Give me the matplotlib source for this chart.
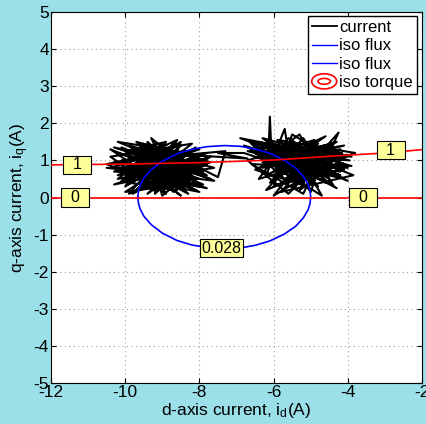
import numpy as np
import matplotlib
matplotlib.use('Agg')
import matplotlib.pyplot as plt
from matplotlib.legend_handler import HandlerBase
from matplotlib.patches import Ellipse, Patch
from matplotlib.lines import Line2D

plt.rcParams['font.family'] = ['Liberation Sans', 'DejaVu Sans']
plt.rcParams['mathtext.default'] = 'regular'
plt.rcParams['axes.unicode_minus'] = False

# measured current trajectory (id, iq) in A
cur_left = [
    (-9.0, 0.9), (-10.2, 1.2), (-8.1, 0.5), (-9.6, 0.3), (-8.5, 1.4), (-10.4, 0.8), (-7.8, 0.9), (-9.2, 0.15),
    (-9.4, 1.5), (-8.0, 0.3), (-10.0, 0.6), (-8.7, 1.2), (-9.8, 0.1), (-8.3, 0.9), (-10.3, 1.35), (-7.7, 0.5),
    (-9.1, 1.1), (-9.9, 0.4), (-8.6, 0.2), (-9.3, 1.6), (-8.2, 0.7), (-10.5, 0.8), (-8.8, 0.6), (-7.6, 0.45),
    (-9.5, 1.2), (-8.9, 0.1), (-10.1, 1.0), (-8.0, 1.3), (-9.7, 0.7), (-8.4, 0.25), (-9.0, 1.45), (-10.2, 0.5),
    (-7.9, 1.0), (-9.3, 0.35), (-8.6, 1.55), (-9.9, 0.95), (-8.3, 0.1), (-9.6, 1.35), (-8.1, 0.8), (-10.3, 0.35),
    (-8.7, 0.9), (-9.2, 1.3), (-7.8, 0.6), (-9.8, 1.2), (-8.9, 0.3), (-10.0, 0.15), (-8.5, 1.1), (-9.4, 0.6),
    (-7.7, 1.1), (-9.1, 0.2), (-10.4, 1.1), (-8.2, 1.45), (-9.5, 0.45), (-8.0, 0.15), (-9.7, 1.0), (-8.8, 1.35),
    (-10.1, 0.75), (-8.4, 0.55), (-9.0, 0.05), (-9.3, 1.0), (-7.9, 0.35), (-9.8, 0.55), (-8.6, 0.85), (-10.2, 1.5),
    (-8.3, 1.2), (-9.4, 0.1), (-8.1, 1.0), (-9.6, 0.85), (-8.7, 0.4), (-9.9, 1.4), (-7.6, 0.8), (-9.2, 0.55),
    (-8.5, 0.05), (-10.0, 1.25), (-8.9, 1.5), (-9.5, 0.25), (-8.2, 0.6), (-10.3, 0.95), (-8.0, 1.15), (-9.1, 0.7),
    (-8.6, 1.3), (-9.7, 0.2), (-8.4, 0.95), (-10.1, 0.45), (-8.8, 1.2), (-9.3, 0.8), (-7.8, 0.25), (-9.9, 0.65),
    (-8.5, 1.5), (-9.0, 0.35), (-10.4, 1.3), (-8.3, 0.45), (-9.5, 1.45), (-8.7, 0.15), (-9.6, 1.05), (-7.9, 0.7),
    (-9.2, 1.4), (-10.0, 0.3), (-8.1, 1.35), (-8.9, 0.75), (-9.8, 1.3), (-8.5, 0.4), (-9.4, 0.95), (-10.2, 0.6),
    (-8.6, 1.0), (-9.1, 0.45), (-7.7, 0.95), (-9.7, 1.5), (-8.3, 0.3), (-9.0, 1.2), (-10.5, 0.9), (-8.8, 0.2),
    (-9.3, 1.15), (-8.2, 0.85), (-9.9, 0.1), (-8.7, 1.45), (-9.4, 0.7), (-8.0, 0.5), (-10.1, 1.35), (-8.6, 0.65),
    (-9.2, 0.1), (-8.4, 1.25), (-9.6, 0.6), (-7.8, 1.2), (-9.0, 0.6), (-10.3, 0.7), (-8.9, 1.05), (-9.5, 0.75),
    (-8.1, 0.2), (-9.8, 0.9), (-8.5, 0.75), (-9.1, 1.35), (-7.5, 0.55),
]
cur_mid = [(-7.3, 1.25), (-8.4, 1.15), (-6.7, 1.05), (-7.5, 1.2), (-6.8, 1.2)]
cur_right = [
    (-5.0, 0.6), (-6.4, 1.5), (-4.4, 1.0), (-6.0, 0.3), (-5.5, 1.7), (-4.0, 0.8), (-6.6, 0.9),
    (-5.2, 0.1), (-4.6, 1.4), (-6.2, 0.6), (-5.7, 1.85), (-5.6, 1.2), (-3.9, 1.1), (-6.5, 1.35), (-4.8, 0.3),
    (-5.9, 1.2), (-4.3, 0.55), (-6.15, 0.95), (-6.1, 2.18), (-6.05, 1.0), (-5.1, 1.5), (-4.5, 0.7), (-6.7, 1.55),
    (-5.4, 0.4), (-4.2, 1.3), (-6.3, 0.8), (-5.6, 1.3), (-3.85, 0.6), (-5.8, 0.15), (-4.9, 1.2), (-6.9, 1.6),
    (-5.0, 0.9), (-4.25, 1.75), (-4.5, 1.2), (-5.3, 0.55), (-6.4, 1.1), (-4.7, 0.05), (-5.5, 1.45), (-4.1, 0.9),
    (-6.0, 0.7), (-5.2, 1.6), (-4.4, 0.35), (-6.6, 1.3), (-5.7, 0.5), (-3.8, 1.2), (-5.9, 1.55), (-4.8, 0.8),
    (-6.2, 0.2), (-5.4, 1.1), (-4.6, 1.65), (-6.5, 0.75), (-5.1, 0.3), (-4.3, 1.1), (-5.8, 1.4), (-4.0, 0.45),
    (-6.1, 1.25), (-5.3, 0.75), (-4.9, 1.55), (-6.7, 1.0), (-5.6, 0.1), (-4.5, 1.25), (-5.95, 0.85), (-4.2, 0.7),
    (-5.2, 1.3), (-6.3, 1.6), (-4.8, 0.55), (-5.5, 0.9), (-3.9, 0.85), (-6.0, 1.45), (-5.0, 0.15), (-4.7, 1.0),
    (-6.4, 0.5), (-5.6, 1.6), (-4.4, 0.8), (-5.8, 0.35), (-5.1, 1.15), (-4.1, 1.4), (-6.2, 1.05), (-5.3, 1.7),
    (-4.6, 0.4), (-6.6, 1.45), (-5.7, 0.65), (-4.3, 1.5), (-5.0, 1.3), (-6.0, 0.05), (-4.9, 0.7), (-5.4, 1.35),
    (-3.95, 1.0), (-6.5, 1.2), (-5.2, 0.45), (-4.5, 1.15), (-5.9, 0.95), (-4.8, 1.45), (-6.1, 0.4), (-5.5, 1.05),
    (-4.2, 0.6), (-6.8, 1.4), (-5.6, 0.8), (-4.7, 1.3), (-5.3, 0.2), (-4.0, 1.15), (-6.3, 0.95), (-5.1, 0.75),
    (-4.4, 1.45), (-5.8, 1.15), (-4.9, 0.4), (-6.4, 1.3), (-5.4, 0.6), (-4.6, 0.95), (-5.7, 1.5), (-4.1, 0.75),
    (-6.2, 1.4), (-5.0, 1.05), (-4.5, 0.5), (-5.9, 1.3), (-5.25, 0.95), (-4.3, 0.25), (-6.0, 1.15), (-4.8, 1.15),
    (-5.5, 0.3), (-4.15, 1.2), (-6.7, 1.25), (-5.2, 0.85), (-4.6, 1.2), (-5.8, 0.6), (-4.95, 1.4), (-4.4, 0.6),
    (-6.1, 1.5), (-5.35, 1.0),
]

# iso flux contour (0.028 Wb)
flux_id = [-9.66, -9.64, -9.6, -9.5, -9.3, -9.0, -8.6, -8.2, -7.8, -7.33, -6.9, -6.5, -6.1, -5.7, -5.4,
           -5.2, -5.07, -5.02, -5.0, -5.02, -5.07, -5.2, -5.4, -5.7, -6.1, -6.5, -6.9, -7.33, -7.8, -8.2,
           -8.6, -9.0, -9.3, -9.5, -9.6, -9.64, -9.66]
flux_iq = [0.01, 0.19, 0.32, 0.52, 0.75, 0.98, 1.18, 1.30, 1.37, 1.40, 1.38, 1.31, 1.19, 1.00, 0.79,
           0.57, 0.35, 0.19, 0.01, -0.17, -0.33, -0.55, -0.77, -0.98, -1.17, -1.29, -1.36, -1.38, -1.35, -1.28,
           -1.16, -0.96, -0.73, -0.50, -0.30, -0.17, 0.01]

# iso torque contours (0 and 1 Nm)
torque0_id = [-12, -2]
torque0_iq = [0.0, 0.0]
torque1_id = [-12, -10, -8, -6, -4.5, -3, -2]
torque1_iq = [0.88, 0.90, 0.94, 1.01, 1.11, 1.20, 1.29]

# contour labels: (text, id, iq)
clabels = [('\u20021\u2002', -11.29, 0.88), ('\u20021\u2002', -2.84, 1.28),
           ('\u20020\u2002', -11.35, 0.0), ('\u20020\u2002', -3.59, 0.0),
           ('0.028', -7.40, -1.37)]


class ContourHandler(HandlerBase):
    def create_artists(self, legend, orig_handle, xdescent, ydescent, width, height, fontsize, trans):
        cx = width / 2 - xdescent
        cy = height / 2 - ydescent
        outer = Ellipse((cx, cy), width, height * 1.3, fill=False, ec='red', lw=1.2, transform=trans)
        inner = Ellipse((cx, cy), width * 0.5, height * 0.5, fill=False, ec='red', lw=1.2, transform=trans)
        return [outer, inner]


fig = plt.figure(figsize=(4.27, 4.24), dpi=100, facecolor='#9bdfe8')
ax = fig.add_axes([51 / 427, 41 / 424, 371 / 427, 371 / 424])

cl = np.array(cur_left + cur_mid + cur_right)
ax.plot(cl[:, 0], cl[:, 1], color='black', lw=1.5, zorder=2)
ax.plot(flux_id, flux_iq, color='blue', lw=1.2, zorder=3)
ax.plot(torque0_id, torque0_iq, color='red', lw=1.2, zorder=3)
ax.plot(torque1_id, torque1_iq, color='red', lw=1.2, zorder=3)

for txt, x, y in clabels:
    ax.text(x, y, txt, ha='center', va='center', fontsize=11.5, zorder=6,
            bbox=dict(boxstyle='square,pad=0.1', fc='#ffff99', ec='black', lw=0.8))

ax.set_xlim(-12, -2)
ax.set_ylim(-5, 5)
ax.set_xticks(np.arange(-12, -1, 2))
ax.set_yticks(np.arange(-5, 6, 1))
ax.tick_params(direction='in', length=3.5, width=0.8, top=True, right=True, labelsize=12.5, pad=1.5)
ax.grid(True, linestyle=(0, (1, 3)), color='#a0a0a0', lw=0.8)
ax.set_axisbelow(True)
for s in ax.spines.values():
    s.set_linewidth(0.8)

ax.set_xlabel('d-axis current, i$_d$(A)', fontsize=12.5, labelpad=0.5)
ax.set_ylabel('q-axis current, i$_q$(A)', fontsize=12.5, labelpad=2)

torque_proxy = Patch()
handles = [Line2D([], [], color='black', lw=1.3), Line2D([], [], color='blue', lw=1.0),
           Line2D([], [], color='blue', lw=1.0), torque_proxy]
labels = ['current', 'iso flux', 'iso flux', 'iso torque']
leg = ax.legend(handles, labels, loc='upper right', bbox_to_anchor=(1 - 5 / 371, 1 - 4 / 371),
                borderaxespad=0, fontsize=12, fancybox=False, framealpha=1, edgecolor='black',
                handlelength=1.5, handletextpad=0.15, labelspacing=0.2, borderpad=0.25,
                handler_map={torque_proxy: ContourHandler()})
leg.get_frame().set_linewidth(1.0)

fig.savefig('out.png', dpi=100, facecolor=fig.get_facecolor())
